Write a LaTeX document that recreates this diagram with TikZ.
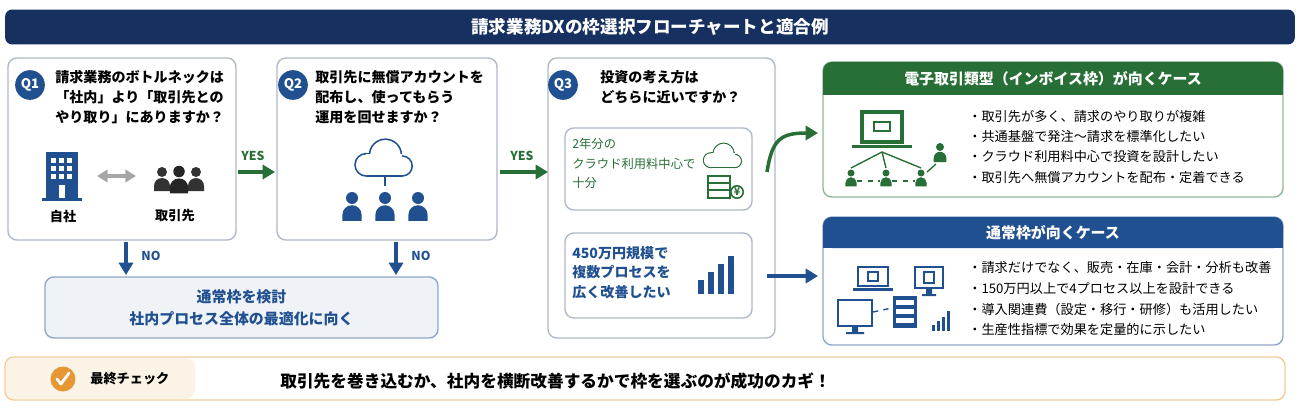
\documentclass[tikz,border=0pt]{standalone}
\usepackage{fontspec}
\setmainfont{Noto Sans CJK JP}
\usetikzlibrary{arrows.meta,positioning,fit}
\definecolor{dxnavy}{RGB}{22, 48, 96}
\definecolor{dxblue}{RGB}{33, 80, 145}
\definecolor{dxgreen}{RGB}{40, 110, 55}
\definecolor{dxline}{RGB}{175, 185, 200}
\definecolor{dxorange}{RGB}{230, 150, 50}
\tikzset{
  box/.style={draw=dxline, rounded corners=5pt, line width=0.8pt, inner sep=0pt},
  qtag/.style={circle, fill=dxblue, text=white, font=\fontsize{7.5}{8}\selectfont\bfseries, inner sep=1.5pt, minimum size=0.48cm},
  qtext/.style={anchor=north west, align=left, font=\fontsize{8}{11.5}\selectfont\bfseries, inner sep=0pt},
  bullet/.style={anchor=west, font=\fontsize{7.5}{9}\selectfont, inner sep=0pt},
  yes/.style={-{Triangle[length=7pt,width=8pt]}, line width=2pt, dxgreen},
  no/.style={-{Triangle[length=7pt,width=8pt]}, line width=2pt, dxblue},
  lbl/.style={font=\fontsize{7}{8}\selectfont\bfseries, inner sep=0pt},
  person/.pic={
    \fill[pic actions] (0,-10) circle (5);
    \fill[pic actions] (-8,9) -- (-8,4) arc[start angle=180,end angle=360,radius=8] -- (8,9) -- cycle;
  },
  cloud/.pic={
    \fill[pic actions] (-14,4) circle (10);
    \fill[pic actions] (2,-4) circle (14);
    \fill[pic actions] (16,5) circle (9);
    \fill[pic actions] (-14,-6) rectangle (16,14);
    \fill[white] (-14,4) circle (8.6);
    \fill[white] (2,-4) circle (12.6);
    \fill[white] (16,5) circle (7.6);
    \fill[white] (-14,-4.6) rectangle (16,12.6);
  }
}
\begin{document}
\begin{tikzpicture}[x=0.02cm, y=-0.02cm]
  \useasboundingbox (0,0) rectangle (1300,412);
  % title
  \node[fill=dxnavy, rounded corners=4pt, minimum width=25.8cm, minimum height=0.7cm,
    text=white, font=\fontsize{10}{12}\selectfont\bfseries] (title) at (650,27) {請求業務DXの枠選択フローチャートと適合例};

  % Q1
  \node[box, fit={(8,58)(236,240)}] (q1) {};
  \node[qtag] (q1tag) at (30,85) {Q1};
  \node[qtext] (q1txt) at (55,70) {請求業務のボトルネックは\\「社内」より「取引先との\\やり取り」にありますか？};
  \fill[dxblue] (46,152) rectangle (78,198);
  \fill[dxblue] (42,198) rectangle (82,201);
  \foreach \i in {0,1,2} \foreach \j in {0,1,2}
    \fill[white] (51+\i*8,158+\j*8) rectangle (56+\i*8,163+\j*8);
  \fill[white] (59,185) rectangle (65,198);
  \draw[{Triangle[length=6pt,width=7pt]}-{Triangle[length=6pt,width=7pt]}, line width=2pt, gray!70] (97,176) -- (136,176);
  \pic[fill=black!80] at (162,182) {person};
  \pic[fill=black!80] at (196,182) {person};
  \pic[fill=black!85, scale=1.15] at (179,183) {person};
  \node[lbl, font=\fontsize{7.5}{8}\selectfont\bfseries] (jisha) at (63,216) {自社};
  \node[lbl, font=\fontsize{7.5}{8}\selectfont\bfseries] (torihiki) at (175,216) {取引先};

  % Q2
  \node[box, fit={(277,58)(497,240)}] (q2) {};
  \node[qtag] (q2tag) at (293,85) {Q2};
  \node[qtext] (q2txt) at (315,70) {取引先に無償アカウントを\\配布し、使ってもらう\\運用を回せますか？};
  \pic[fill=dxblue, scale=1.2] at (383,160) {cloud};
  \draw[dxblue, line width=1pt] (385,176) -- (385,186);
  \foreach \px in {352,385,418}
    \pic[fill=dxblue, scale=1.2] at (\px,210) {person};

  % Q3
  \node[box, fit={(548,58)(775,338)}] (q3) {};
  \node[qtag] (q3tag) at (563,85) {Q3};
  \node[qtext] (q3txt) at (600,70) {投資の考え方は\\どちらに近いですか？};
  \node[box, fit={(565,128)(752,210)}] (q3a) {};
  \node[qtext, text=dxgreen, font=\fontsize{7}{11}\selectfont] (q3atxt) at (572,138) {2年分の\\クラウド利用料中心で\\十分};
  \pic[fill=dxgreen, scale=0.8] at (722,157) {cloud};
  \draw[dxgreen, line width=0.9pt, fill=white] (708,176) rectangle (730,198);
  \draw[dxgreen, line width=0.9pt] (708,183) -- (730,183) (708,190) -- (730,190);
  \node[circle, draw=dxgreen, fill=white, line width=0.9pt, inner sep=0.5pt,
    font=\fontsize{6}{6}\selectfont\bfseries, text=dxgreen] (yen) at (737,192) {¥};
  \node[box, fit={(565,233)(752,318)}] (q3b) {};
  \node[qtext, text=dxblue, font=\fontsize{8}{11}\selectfont\bfseries] (q3btxt) at (572,246) {450万円規模で\\複数プロセスを\\広く改善したい};
  \foreach \k/\h in {0/14,1/22,2/30,3/38}
    \fill[dxblue] (698+\k*10,294-\h) rectangle (704+\k*10,294);

  % arrows between questions
  \coordinate (y1s) at (238,172); \coordinate (y1e) at (275,172);
  \coordinate (y2s) at (500,172); \coordinate (y2e) at (548,172);
  \draw[yes] (y1s) -- (y1e);
  \draw[yes] (y2s) -- (y2e);
  \node[lbl, text=dxgreen] (yes1) at (253,156) {YES};
  \node[lbl, text=dxgreen] (yes2) at (522,156) {YES};

  % normal frame result
  \node[box, draw=dxblue!50, fill=dxblue!7, fit={(45,277)(438,338)}] (normal) {};
  \node[align=center, text=dxblue, font=\fontsize{8.5}{12.5}\selectfont\bfseries] (normaltxt) at (normal) {通常枠を検討\\社内プロセス全体の最適化に向く};
  \coordinate (n1s) at (126,242); \coordinate (n1e) at (126,275);
  \coordinate (n2s) at (396,242); \coordinate (n2e) at (396,275);
  \draw[no] (n1s) -- (n1e);
  \draw[no] (n2s) -- (n2e);
  \node[lbl, text=dxblue] (no1) at (151,256) {NO};
  \node[lbl, text=dxblue] (no2) at (421,256) {NO};

  % case: e-commerce type
  \node[box, draw=dxgreen!50, fit={(823,62)(1283,197)}] (ecase) {};
  \fill[dxgreen, rounded corners=5pt] (823,62) rectangle (1283,95);
  \fill[dxgreen] (823,85) rectangle (1283,95);
  \node[text=white, font=\fontsize{8.5}{10}\selectfont\bfseries] (etitle) at (1053,79) {電子取引類型（インボイス枠）が向くケース};
  \draw[dxgreen, line width=1.8pt, fill=white] (862,112) rectangle (902,142);
  \fill[dxgreen] (852,145) rectangle (912,148);
  \draw[dxgreen, line width=1pt] (874,122) rectangle (890,131);
  \foreach \px in {851,886,921} {
    \draw[dxgreen, line width=0.8pt] (882,152) -- (\px,168);
    \pic[fill=dxgreen, scale=0.7] at (\px,180) {person};
  }
  \draw[dxgreen, dashed, line width=0.8pt] (857,181) -- (880,181) (892,181) -- (915,181);
  \pic[fill=dxgreen, scale=0.8] at (940,155) {person};
  \draw[dxgreen, line width=0.8pt] (927,172) -- (936,164);
  \foreach \t [count=\n from 0] in {取引先が多く、請求のやり取りが複雑, 共通基盤で発注〜請求を標準化したい, クラウド利用料中心で投資を設計したい, 取引先へ無償アカウントを配布・定着できる}
    \node[bullet] (eb\n) at (968,116+\n*20.5) {・\t};

  % case: normal frame
  \node[box, draw=dxblue!50, fit={(823,217)(1283,345)}] (ncase) {};
  \fill[dxblue, rounded corners=5pt] (823,217) rectangle (1283,248);
  \fill[dxblue] (823,238) rectangle (1283,248);
  \node[text=white, font=\fontsize{8.5}{10}\selectfont\bfseries] (ntitle) at (1053,233) {通常枠が向くケース};
  \draw[dxblue, line width=1.5pt, fill=white] (858,267) rectangle (888,286);
  \fill[dxblue] (853,288) rectangle (893,291);
  \draw[dxblue, line width=1pt] (868,272) rectangle (878,281);
  \draw[dxblue, line width=1.5pt, fill=white] (915,267) rectangle (943,288);
  \draw[dxblue, line width=1pt] (924,272) rectangle (934,283);
  \fill[dxblue] (926,288) rectangle (932,294) (922,294) rectangle (936,296);
  \draw[dxblue, line width=1.5pt, fill=white] (838,300) rectangle (872,326);
  \fill[dxblue] (852,326) rectangle (858,332) (846,332) rectangle (864,334);
  \draw[dxblue, dashed, line width=0.8pt] (873,312) -- (892,308);
  \fill[dxblue] (893,296) rectangle (917,328);
  \foreach \j in {0,1,2} \fill[white] (896,300+\j*9) rectangle (914,305+\j*9);
  \foreach \k/\h in {0/6,1/10,2/14,3/20}
    \fill[dxblue] (932+\k*5,331-\h) rectangle (935+\k*5,331);
  \foreach \t [count=\n from 0] in {請求だけでなく、販売・在庫・会計・分析も改善, 150万円以上で4プロセス以上を設計できる, 導入関連費（設定・移行・研修）も活用したい, 生産性指標で効果を定量的に示したい}
    \node[bullet] (nb\n) at (968,268+\n*20.5) {・\t};

  % Q3 outcome arrows
  \coordinate (g1s) at (767,172); \coordinate (g1e) at (818,133);
  \coordinate (b1s) at (767,276); \coordinate (b1e) at (818,276);
  \draw[yes] (g1s) .. controls (772,140) and (780,133) .. (g1e);
  \draw[no] (b1s) -- (b1e);

  % final check bar
  \node[box, draw=dxorange!50, fit={(5,357)(1285,400)}] (final) {};
  \fill[dxorange!12, rounded corners=5pt] (6,358) rectangle (195,399);
  \node[circle, fill=dxorange, minimum size=0.5cm, inner sep=0pt] (chk) at (63,379) {};
  \draw[white, line width=1.6pt, line cap=round, line join=round] (57,379) -- (61,384) -- (69,373);
  \node[anchor=west, font=\fontsize{7.5}{8}\selectfont\bfseries, inner sep=0pt] (chklbl) at (90,379) {最終チェック};
  \node[anchor=west, font=\fontsize{9.5}{11}\selectfont\bfseries, inner sep=0pt] (msg) at (280,381) {取引先を巻き込むか、社内を横断改善するかで枠を選ぶのが成功のカギ！};
\end{tikzpicture}
\end{document}
